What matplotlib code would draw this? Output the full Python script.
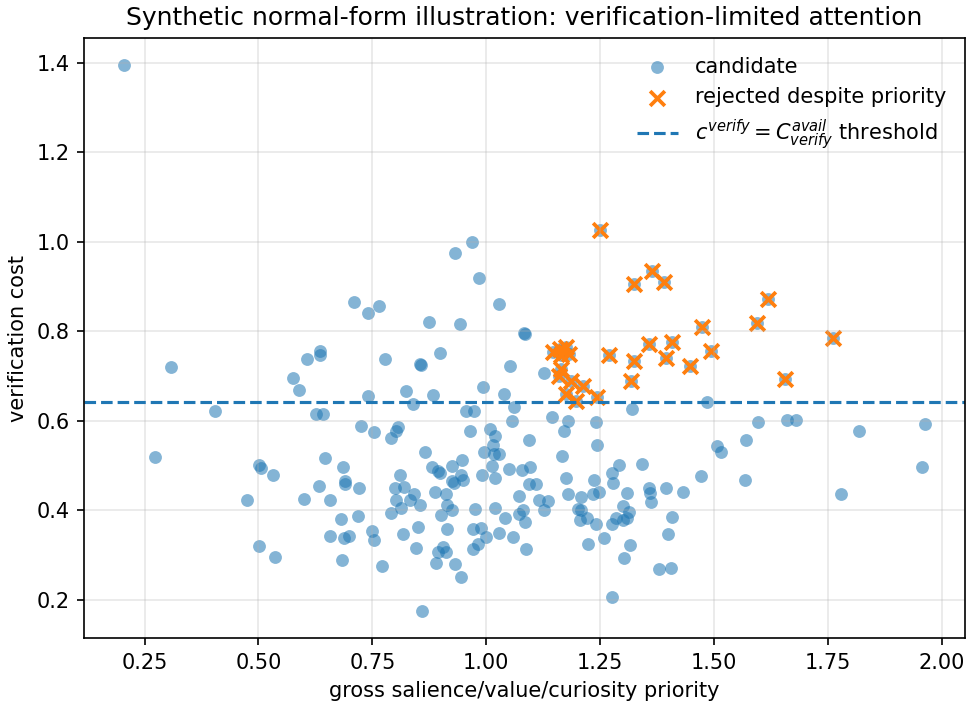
import numpy as np
import matplotlib
matplotlib.use("Agg")
import matplotlib.pyplot as plt

# candidate points: (priority, verification cost)
priority = [
    0.205, 0.309, 0.404, 0.274, 0.501, 0.505, 0.531, 0.475, 0.600, 0.501,
    0.537, 0.606, 0.575, 0.589, 0.636, 0.636, 0.931, 0.969, 0.984, 0.709,
    0.741, 0.764, 1.029, 0.875, 0.942, 1.082, 1.084, 0.777, 0.854, 0.856,
    0.898, 1.052, 0.740, 0.823, 0.883, 0.993, 1.039, 0.627, 0.642, 0.839,
    0.956, 0.974, 1.061, 1.057, 0.725, 0.754, 0.807, 0.803, 0.792, 0.964,
    1.009, 1.019, 1.015, 1.094, 0.996, 1.017, 1.029, 1.013, 1.019, 0.990,
    1.051, 1.079, 1.094, 1.072, 1.080, 1.073, 1.085, 1.087, 0.865, 0.947,
    0.924, 0.882, 0.894, 0.899, 0.944, 0.950, 0.925, 0.929, 0.810, 0.799,
    0.819, 0.841, 0.832, 0.802, 0.814, 0.855, 0.887, 0.912, 0.914, 0.924,
    0.901, 0.976, 1.019, 0.791, 0.719, 0.682, 0.645, 0.686, 0.691, 0.689,
    0.720, 0.633, 0.656, 0.657, 0.688, 0.699, 0.684, 0.749, 0.753, 0.772,
    0.817, 0.850, 0.846, 0.914, 0.905, 0.894, 0.912, 0.889, 0.932, 0.944,
    0.860, 0.971, 0.988, 1.000, 0.982, 0.970, 1.027, 1.059, 1.042, 1.145,
    1.180, 1.170, 1.167, 1.097, 1.174, 1.110, 1.115, 1.135, 1.126, 1.180,
    1.126, 1.320, 1.484, 1.241, 1.243, 1.236, 1.235, 1.247, 1.208, 1.201,
    1.207, 1.205, 1.221, 1.240, 1.224, 1.259, 1.276, 1.291, 1.278, 1.341,
    1.310, 1.301, 1.314, 1.308, 1.301, 1.284, 1.276, 1.316, 1.303, 1.276,
    1.357, 1.360, 1.362, 1.395, 1.433, 1.472, 1.407, 1.400, 1.379, 1.406,
    1.506, 1.515, 1.570, 1.569, 1.597, 1.660, 1.681, 1.818, 1.963, 1.956,
    1.778,
    # high-priority candidates above the threshold
    1.250, 1.325, 1.364, 1.390, 1.474, 1.493, 1.407, 1.357, 1.395, 1.325,
    1.269, 1.448, 1.318, 1.243, 1.618, 1.595, 1.761, 1.655,
    1.146, 1.163, 1.175, 1.181, 1.165, 1.164, 1.159, 1.187, 1.213, 1.175,
    1.196,
]
cost = [
    1.394, 0.720, 0.622, 0.519, 0.502, 0.495, 0.478, 0.423, 0.426, 0.320,
    0.296, 0.739, 0.695, 0.670, 0.757, 0.748, 0.975, 1.000, 0.919, 0.866,
    0.840, 0.857, 0.861, 0.820, 0.816, 0.797, 0.794, 0.738, 0.727, 0.725,
    0.751, 0.723, 0.655, 0.666, 0.657, 0.676, 0.659, 0.616, 0.616, 0.637,
    0.621, 0.622, 0.631, 0.600, 0.589, 0.575, 0.587, 0.578, 0.562, 0.577,
    0.581, 0.566, 0.547, 0.558, 0.530, 0.525, 0.525, 0.499, 0.473, 0.478,
    0.493, 0.491, 0.459, 0.433, 0.400, 0.391, 0.374, 0.313, 0.530, 0.512,
    0.500, 0.496, 0.489, 0.484, 0.480, 0.467, 0.466, 0.462, 0.480, 0.449,
    0.453, 0.437, 0.424, 0.423, 0.406, 0.413, 0.441, 0.436, 0.413, 0.400,
    0.390, 0.404, 0.406, 0.394, 0.387, 0.380, 0.517, 0.498, 0.465, 0.458,
    0.451, 0.454, 0.424, 0.343, 0.338, 0.343, 0.290, 0.353, 0.334, 0.276,
    0.348, 0.362, 0.317, 0.358, 0.318, 0.307, 0.307, 0.283, 0.280, 0.252,
    0.176, 0.358, 0.360, 0.340, 0.325, 0.313, 0.350, 0.341, 0.384, 0.609,
    0.599, 0.578, 0.522, 0.496, 0.473, 0.458, 0.424, 0.422, 0.400, 0.436,
    0.707, 0.627, 0.641, 0.598, 0.547, 0.467, 0.437, 0.441, 0.430, 0.404,
    0.400, 0.379, 0.384, 0.369, 0.324, 0.339, 0.484, 0.502, 0.461, 0.504,
    0.439, 0.410, 0.397, 0.384, 0.379, 0.384, 0.370, 0.323, 0.293, 0.207,
    0.449, 0.439, 0.419, 0.449, 0.441, 0.476, 0.386, 0.348, 0.270, 0.271,
    0.543, 0.530, 0.558, 0.467, 0.598, 0.602, 0.602, 0.578, 0.593, 0.498,
    0.437,
    1.026, 0.905, 0.934, 0.909, 0.810, 0.757, 0.775, 0.771, 0.740, 0.734,
    0.746, 0.722, 0.690, 0.654, 0.872, 0.818, 0.785, 0.693,
    0.754, 0.760, 0.765, 0.750, 0.748, 0.716, 0.700, 0.688, 0.678, 0.660,
    0.645,
]
threshold = 0.6425
priority_cut = 1.14

x = np.array(priority)
y = np.array(cost)
rejected = (x > priority_cut) & (y > threshold)

fig, ax = plt.subplots(figsize=(968 / 150, 702 / 150), dpi=150)
fig.subplots_adjust(left=84 / 968, right=965 / 968, bottom=1 - 638 / 702, top=1 - 38 / 702)
ax.scatter(x, y, s=38, alpha=0.55, linewidths=0, color="C0", label="candidate")
ax.scatter(x[rejected], y[rejected], s=50, marker="x", linewidths=1.8,
           color="C1", label="rejected despite priority")
ax.axhline(threshold, color="C0", linestyle="--", linewidth=1.5,
           label=r"$c^{verify}=C^{avail}_{verify}$ threshold")
ax.set_xlabel("gross salience/value/curiosity priority")
ax.set_ylabel("verification cost")
ax.set_title("Synthetic normal-form illustration: verification-limited attention")
ax.grid(alpha=0.3)
ax.legend(loc="upper right", frameon=False)
fig.savefig("out.png", dpi=150)
